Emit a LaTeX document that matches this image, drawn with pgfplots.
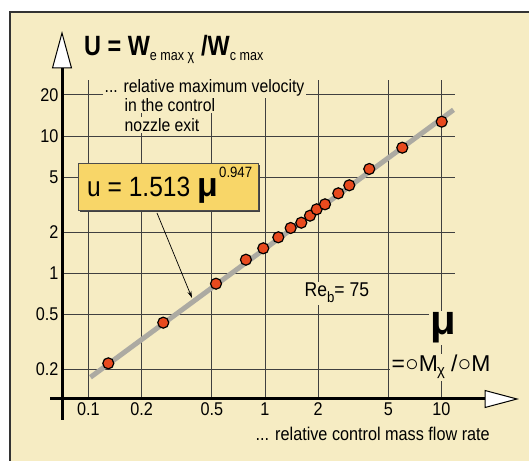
\documentclass[border=0pt]{standalone}
\usepackage{pgfplots}
\pgfplotsset{compat=1.18}
\usetikzlibrary{arrows.meta}
\usepackage{fontspec}
\setmainfont{Liberation Sans}[FakeStretch=0.88]
\newfontfamily\wfont{Liberation Sans}
\newfontfamily\tfont{Liberation Sans}[FakeStretch=0.84]

\definecolor{bg}{RGB}{246,236,195}
\definecolor{boxy}{RGB}{248,214,104}
\definecolor{dot}{RGB}{232,74,30}
\definecolor{fitgray}{RGB}{172,170,162}

\begin{document}
\begin{tikzpicture}[x=1bp,y=1bp]
\useasboundingbox (0,0) rectangle (529,461);
\fill[white] (0,0) rectangle (529,461);
\fill[bg] (10,0) rectangle (529,449);
\draw[black!80, line width=1.5bp] (10,0) -- (10,449) -- (529,449);

\begin{axis}[
    at={(62bp,62bp)}, anchor=south west,
    scale only axis, width=393bp, height=319bp,
    xmode=log, ymode=log,
    xmin=0.0708, xmax=11.93,
    ymin=0.1215, ymax=25.58,
    axis line style={draw=none},
    major tick length=0, minor tick length=0,
    xtick={0.1,0.2,0.5,1,2,5,10},
    xticklabels={0.1,0.2,0.5,1,2,5,10},
    ytick={0.2,0.5,1,2,5,10,20},
    yticklabels={0.2,0.5,1,2,5,10,20},
    grid=major,
    major grid style={black!75, line width=0.8bp},
    tick label style={font=\fontsize{18.5}{20}\selectfont},
    /pgf/number format/assume math mode=true,
    clip=false,
]
% fitted line u = 1.513 mu^0.947
\addplot[fitgray, line width=5bp] coordinates {(0.1026,0.175) (11.7,15.5)};
% measured points
\addplot[only marks, mark=*, mark size=5.5bp,
    mark options={fill=dot, draw=black, line width=1.2bp}]
coordinates {
    (0.1295, 0.221)
    (0.2653, 0.437)
    (0.528,  0.840)
    (0.780,  1.256)
    (0.978,  1.521)
    (1.190,  1.829)
    (1.398,  2.138)
    (1.606,  2.336)
    (1.799,  2.628)
    (1.963,  2.925)
    (2.188,  3.181)
    (2.602,  3.825)
    (3.004,  4.375)
    (3.899,  5.751)
    (5.998,  8.22)
    (10.03, 12.71)
};
\end{axis}

% axes with hollow arrows
\draw[line width=3bp] (62,41) -- (62,393);
\draw[line width=1bp, fill=white] (52.5,393) -- (62,428) -- (71.5,393) -- cycle;
\draw[line width=3bp] (50,62) -- (485,62);
\draw[line width=1bp, fill=white] (485,70.5) -- (517,62) -- (485,53.5) -- cycle;

% title
\node[anchor=base west, inner sep=0] at (84,405)
  {\tfont\bfseries\fontsize{28}{30}\selectfont U = W\raisebox{-5bp}{\mdseries\fontsize{15}{17}\selectfont e max χ}\hspace{7bp}/W\raisebox{-5bp}{\mdseries\fontsize{15}{17}\selectfont c max}};

% descriptions
\begin{scope}[every node/.style={anchor=base west, fill=bg, inner sep=1.5bp, font=\fontsize{18}{20}\selectfont}]
\node at (103,368.3) {... relative maximum velocity};
\node at (123,349.3) {in the control};
\node at (123,329.3) {nozzle exit};
\node at (254,20) {\fontsize{18.5}{20}\selectfont ... relative control mass flow rate};
\node at (303,164) {\fontsize{20}{22}\selectfont Re\raisebox{-6bp}{\fontsize{15}{17}\selectfont b}= 75};
\node at (429,126) {\wfont\bfseries\fontsize{42}{44}\selectfont μ};
\node at (390,89) {\wfont\fontsize{23}{25}\selectfont =○M\kern-1bp\raisebox{-4bp}{\fontsize{15}{17}\selectfont χ} /○M};
\end{scope}

% formula box
\fill[black!75] (80,249) rectangle (260,296);
\filldraw[fill=boxy, draw=black!70, line width=0.6bp] (78,251) rectangle (258,298);
\node[anchor=base west, inner sep=0] at (87,264)
  {\fontsize{28}{30}\selectfont u = 1.513 {\wfont\bfseries\fontsize{34}{36}\selectfont μ}};
\node[anchor=base west, inner sep=0] at (219,283)
  {\fontsize{15}{17}\selectfont 0.947};
\draw[-{Stealth[length=7bp,width=4bp]}, line width=0.7bp] (157,248) -- (192,163);
\end{tikzpicture}
\end{document}
